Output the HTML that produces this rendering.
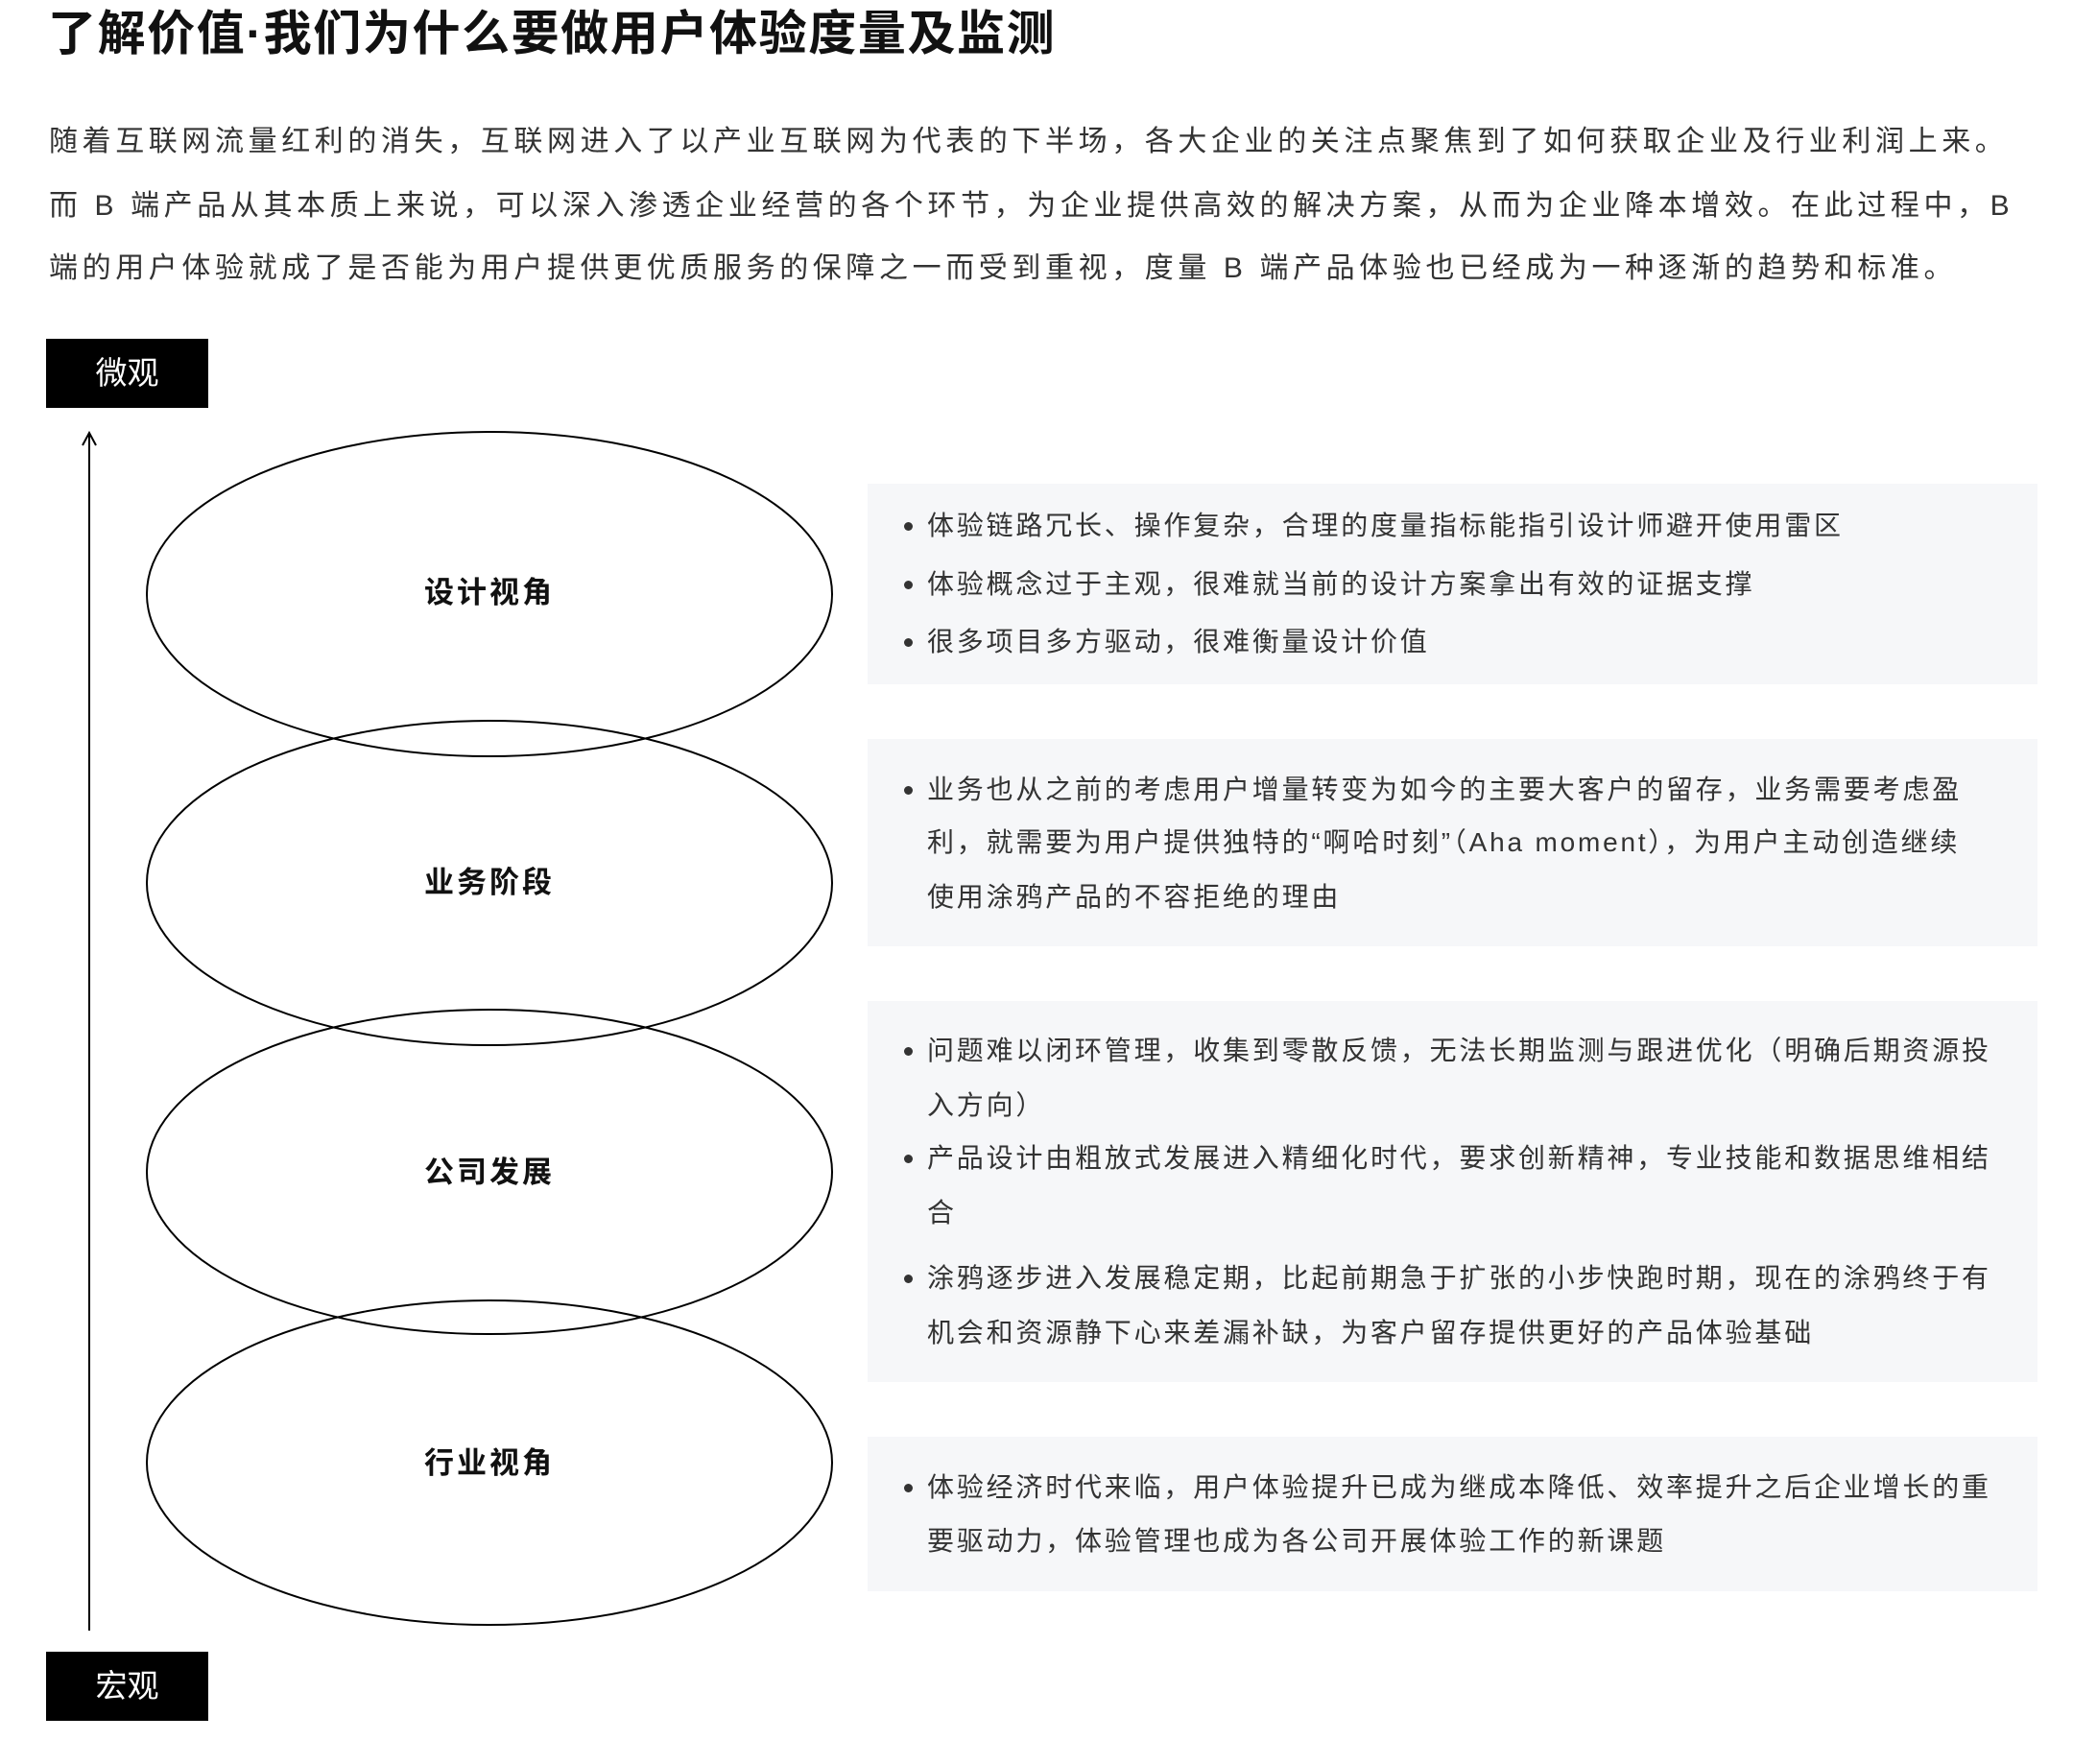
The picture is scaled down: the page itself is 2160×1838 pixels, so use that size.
<!DOCTYPE html>
<html><head><meta charset="utf-8">
<style>
html,body{margin:0;padding:0;background:#fff;}
body{width:2160px;height:1838px;position:relative;overflow:hidden;font-family:"Liberation Sans","Noto Sans CJK SC",sans-serif;}
.a{position:absolute;white-space:nowrap;}
.title{left:50px;top:5px;font-size:50px;font-weight:bold;color:#111;letter-spacing:1.6px;line-height:60px;}
.p{left:51px;font-size:30px;color:#333;letter-spacing:4.6px;line-height:40px;}
.tag{background:#000;color:#fff;font-size:33px;width:169px;height:72px;line-height:72px;text-align:center;left:48px;}
.box{position:absolute;left:904px;width:1219px;background:#f6f7f9;}
.l{position:absolute;left:966px;font-size:28px;color:#333;letter-spacing:2.8px;line-height:40px;white-space:nowrap;}
.dot{position:absolute;left:942px;width:9px;height:9px;border-radius:50%;background:#333;}
.lab{position:absolute;left:360px;width:300px;text-align:center;font-size:31px;font-weight:bold;color:#111;letter-spacing:3px;line-height:40px;}
</style></head><body>
<div class="a title">了解价值·我们为什么要做用户体验度量及监测</div>
<div class="a p" style="top:128px;">随着互联网流量红利的消失，互联网进入了以产业互联网为代表的下半场，各大企业的关注点聚焦到了如何获取企业及行业利润上来。</div>
<div class="a p" style="top:195px;">而 B 端产品从其本质上来说，可以深入渗透企业经营的各个环节，为企业提供高效的解决方案，从而为企业降本增效。在此过程中，B</div>
<div class="a p" style="top:260px;">端的用户体验就成了是否能为用户提供更优质服务的保障之一而受到重视，度量 B 端产品体验也已经成为一种逐渐的趋势和标准。</div>

<div class="a tag" style="top:353px;">微观</div>
<div class="a tag" style="top:1721px;">宏观</div>

<svg class="a" style="left:0;top:0;" width="2160" height="1838">
<line x1="93" y1="452" x2="93" y2="1699" stroke="#000" stroke-width="2"/>
<polyline points="86,464 93,451 100,464" fill="none" stroke="#000" stroke-width="2"/>
<g fill="none" stroke="#000" stroke-width="2">
<ellipse cx="510" cy="619" rx="357" ry="169"/>
<ellipse cx="510" cy="920" rx="357" ry="169"/>
<ellipse cx="510" cy="1221" rx="357" ry="169"/>
<ellipse cx="510" cy="1524" rx="357" ry="169"/>
</g>
</svg>
<div class="lab" style="top:598px;">设计视角</div>
<div class="lab" style="top:900px;">业务阶段</div>
<div class="lab" style="top:1202px;">公司发展</div>
<div class="lab" style="top:1505px;">行业视角</div>

<div class="box" style="top:504px;height:209px;"></div>
<div class="box" style="top:770px;height:216px;"></div>
<div class="box" style="top:1043px;height:397px;"></div>
<div class="box" style="top:1497px;height:161px;"></div>

<div class="dot" style="top:544px;"></div><div class="l" style="top:528px;">体验链路冗长、操作复杂，合理的度量指标能指引设计师避开使用雷区</div>
<div class="dot" style="top:605px;"></div><div class="l" style="top:589px;">体验概念过于主观，很难就当前的设计方案拿出有效的证据支撑</div>
<div class="dot" style="top:665px;"></div><div class="l" style="top:649px;">很多项目多方驱动，很难衡量设计价值</div>

<div class="dot" style="top:819px;"></div><div class="l" style="top:803px;">业务也从之前的考虑用户增量转变为如今的主要大客户的留存，业务需要考虑盈</div>
<div class="l" style="top:858px;">利，就需要为用户提供独特的“啊哈时刻”（Aha moment），为用户主动创造继续</div>
<div class="l" style="top:915px;">使用涂鸦产品的不容拒绝的理由</div>

<div class="dot" style="top:1091px;"></div><div class="l" style="top:1075px;">问题难以闭环管理，收集到零散反馈，无法长期监测与跟进优化（明确后期资源投</div>
<div class="l" style="top:1132px;">入方向）</div>
<div class="dot" style="top:1203px;"></div><div class="l" style="top:1187px;">产品设计由粗放式发展进入精细化时代，要求创新精神，专业技能和数据思维相结</div>
<div class="l" style="top:1244px;">合</div>
<div class="dot" style="top:1328px;"></div><div class="l" style="top:1312px;">涂鸦逐步进入发展稳定期，比起前期急于扩张的小步快跑时期，现在的涂鸦终于有</div>
<div class="l" style="top:1369px;">机会和资源静下心来差漏补缺，为客户留存提供更好的产品体验基础</div>

<div class="dot" style="top:1546px;"></div><div class="l" style="top:1530px;">体验经济时代来临，用户体验提升已成为继成本降低、效率提升之后企业增长的重</div>
<div class="l" style="top:1586px;">要驱动力，体验管理也成为各公司开展体验工作的新课题</div>
</body></html>
